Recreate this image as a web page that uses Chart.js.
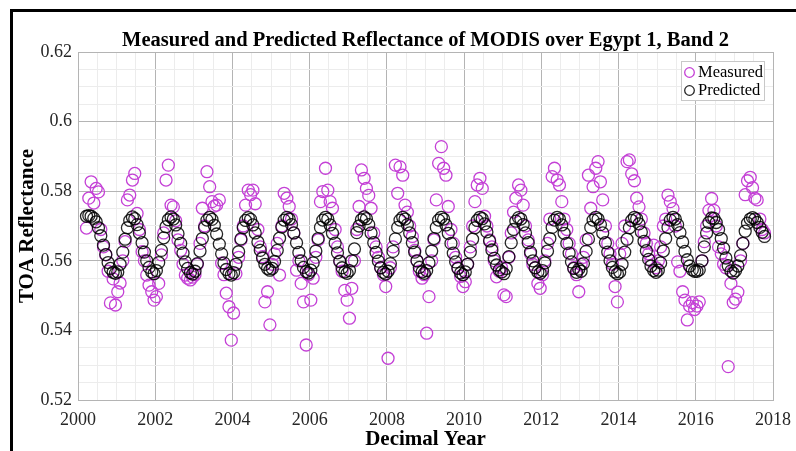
<!DOCTYPE html>
<html>
<head>
<meta charset="utf-8">
<script src="https://cdn.jsdelivr.net/npm/chart.js@4.4.1/dist/chart.umd.min.js"></script>
<style>
  html, body { margin: 0; padding: 0; background: #fff; }
</style>
</head>
<body>
<canvas id="myChart" width="796" height="451"></canvas>
<script>
  // tick labels
  const yearTicks = [2000, 2002, 2004, 2006, 2008, 2010, 2012, 2014, 2016, 2018];
  const reflTicks = [0.52, 0.54, 0.56, 0.58, 0.6, 0.62];

  // sample dates (decimal year), one row per year
  const decimalYear = [
    2000.22, 2000.28, 2000.34, 2000.41, 2000.47, 2000.53, 2000.59, 2000.66, 2000.72, 2000.78, 2000.84, 2000.91, 2000.97,
    2001.03, 2001.09, 2001.16, 2001.22, 2001.28, 2001.34, 2001.41, 2001.47, 2001.53, 2001.59, 2001.66, 2001.72, 2001.78, 2001.84, 2001.91, 2001.97,
    2002.03, 2002.09, 2002.16, 2002.22, 2002.28, 2002.34, 2002.41, 2002.47, 2002.53, 2002.59, 2002.66, 2002.72, 2002.78, 2002.84, 2002.91, 2002.97,
    2003.03, 2003.09, 2003.16, 2003.22, 2003.28, 2003.34, 2003.41, 2003.47, 2003.53, 2003.59, 2003.66, 2003.72, 2003.78, 2003.84, 2003.91, 2003.97,
    2004.03, 2004.09, 2004.16, 2004.22, 2004.28, 2004.34, 2004.41, 2004.47, 2004.53, 2004.59, 2004.66, 2004.72, 2004.78, 2004.84, 2004.91, 2004.97,
    2005.03, 2005.09, 2005.16, 2005.22, 2005.28, 2005.34, 2005.41, 2005.47, 2005.53, 2005.59, 2005.66, 2005.72, 2005.78, 2005.84, 2005.91, 2005.97,
    2006.03, 2006.09, 2006.16, 2006.22, 2006.28, 2006.34, 2006.41, 2006.47, 2006.53, 2006.59, 2006.66, 2006.72, 2006.78, 2006.84, 2006.91, 2006.97,
    2007.03, 2007.09, 2007.16, 2007.22, 2007.28, 2007.34, 2007.41, 2007.47, 2007.53, 2007.59, 2007.66, 2007.72, 2007.78, 2007.84, 2007.91, 2007.97,
    2008.03, 2008.09, 2008.16, 2008.22, 2008.28, 2008.34, 2008.41, 2008.47, 2008.53, 2008.59, 2008.66, 2008.72, 2008.78, 2008.84, 2008.91, 2008.97,
    2009.03, 2009.09, 2009.16, 2009.22, 2009.28, 2009.34, 2009.41, 2009.47, 2009.53, 2009.59, 2009.66, 2009.72, 2009.78, 2009.84, 2009.91, 2009.97,
    2010.03, 2010.09, 2010.16, 2010.22, 2010.28, 2010.34, 2010.41, 2010.47, 2010.53, 2010.59, 2010.66, 2010.72, 2010.78, 2010.84, 2010.91, 2010.97,
    2011.03, 2011.09, 2011.16, 2011.22, 2011.28, 2011.34, 2011.41, 2011.47, 2011.53, 2011.59, 2011.66, 2011.72, 2011.78, 2011.84, 2011.91, 2011.97,
    2012.03, 2012.09, 2012.16, 2012.22, 2012.28, 2012.34, 2012.41, 2012.47, 2012.53, 2012.59, 2012.66, 2012.72, 2012.78, 2012.84, 2012.91, 2012.97,
    2013.03, 2013.09, 2013.16, 2013.22, 2013.28, 2013.34, 2013.41, 2013.47, 2013.53, 2013.59, 2013.66, 2013.72, 2013.78, 2013.84, 2013.91, 2013.97,
    2014.03, 2014.09, 2014.16, 2014.22, 2014.28, 2014.34, 2014.41, 2014.47, 2014.53, 2014.59, 2014.66, 2014.72, 2014.78, 2014.84, 2014.91, 2014.97,
    2015.03, 2015.09, 2015.16, 2015.22, 2015.28, 2015.34, 2015.41, 2015.47, 2015.53, 2015.59, 2015.66, 2015.72, 2015.78, 2015.84, 2015.91, 2015.97,
    2016.03, 2016.09, 2016.16, 2016.22, 2016.28, 2016.34, 2016.41, 2016.47, 2016.53, 2016.59, 2016.66, 2016.72, 2016.78, 2016.84, 2016.91, 2016.97,
    2017.03, 2017.09, 2017.16, 2017.22, 2017.28, 2017.34, 2017.41, 2017.47, 2017.53, 2017.59, 2017.66, 2017.72, 2017.78
  ];

  const measured = [
    0.5694, 0.5780, 0.5827, 0.5766, 0.5808, 0.5798, 0.5690, 0.5640, 0.5617, 0.5570, 0.5479, 0.5548, 0.5473,
    0.5511, 0.5536, 0.5600, 0.5655, 0.5775, 0.5789, 0.5832, 0.5851, 0.5736, 0.5690, 0.5626, 0.5600, 0.5559, 0.5530, 0.5511, 0.5487,
    0.5497, 0.5535, 0.5617, 0.5680, 0.5832, 0.5875, 0.5760, 0.5755, 0.5715, 0.5660, 0.5630, 0.5590, 0.5559, 0.5550, 0.5545, 0.5553,
    0.5560, 0.5590, 0.5650, 0.5751, 0.5700, 0.5856, 0.5813, 0.5770, 0.5757, 0.5760, 0.5775, 0.5593, 0.5560, 0.5507, 0.5468, 0.5372,
    0.5450, 0.5563, 0.5610, 0.5660, 0.5700, 0.5760, 0.5803, 0.5790, 0.5803, 0.5764, 0.5690, 0.5640, 0.5612, 0.5482, 0.5511, 0.5416,
    0.5590, 0.5620, 0.5650, 0.5559, 0.5700, 0.5794, 0.5780, 0.5756, 0.5720, 0.5680, 0.5573, 0.5600, 0.5535, 0.5482, 0.5358, 0.5560,
    0.5487, 0.5550, 0.5610, 0.5660, 0.5770, 0.5799, 0.5866, 0.5803, 0.5770, 0.5751, 0.5690, 0.5640, 0.5600, 0.5570, 0.5515, 0.5487,
    0.5435, 0.5521, 0.5600, 0.5690, 0.5756, 0.5861, 0.5837, 0.5808, 0.5788, 0.5751, 0.5680, 0.5640, 0.5610, 0.5580, 0.5560, 0.5526,
    0.5320, 0.5580, 0.5640, 0.5875, 0.5794, 0.5870, 0.5846, 0.5760, 0.5740, 0.5700, 0.5670, 0.5630, 0.5600, 0.5570, 0.5550, 0.5560,
    0.5392, 0.5497, 0.5600, 0.5660, 0.5775, 0.5880, 0.5928, 0.5866, 0.5846, 0.5756, 0.5690, 0.5650, 0.5610, 0.5580, 0.5555, 0.5526,
    0.5540, 0.5590, 0.5640, 0.5700, 0.5770, 0.5818, 0.5837, 0.5808, 0.5728, 0.5700, 0.5660, 0.5640, 0.5600, 0.5554, 0.5570, 0.5580,
    0.5502, 0.5497, 0.5610, 0.5680, 0.5740, 0.5780, 0.5818, 0.5803, 0.5760, 0.5700, 0.5660, 0.5620, 0.5590, 0.5580, 0.5535, 0.5521,
    0.5560, 0.5600, 0.5650, 0.5720, 0.5842, 0.5866, 0.5832, 0.5818, 0.5770, 0.5720, 0.5690, 0.5650, 0.5620, 0.5580, 0.5560, 0.5511,
    0.5590, 0.5610, 0.5660, 0.5846, 0.5751, 0.5813, 0.5866, 0.5885, 0.5827, 0.5775, 0.5700, 0.5650, 0.5620, 0.5590, 0.5526, 0.5482,
    0.5620, 0.5650, 0.5700, 0.5885, 0.5890, 0.5850, 0.5830, 0.5780, 0.5755, 0.5720, 0.5680, 0.5650, 0.5620, 0.5600, 0.5645, 0.5580,
    0.5600, 0.5640, 0.5700, 0.5720, 0.5789, 0.5770, 0.5750, 0.5700, 0.5597, 0.5570, 0.5511, 0.5487, 0.5430, 0.5470, 0.5480, 0.5460,
    0.5470, 0.5482, 0.5600, 0.5655, 0.5700, 0.5745, 0.5779, 0.5745, 0.5700, 0.5640, 0.5620, 0.5590, 0.5580, 0.5296, 0.5535, 0.5480,
    0.5490, 0.5510, 0.5600, 0.5650, 0.5790, 0.5830, 0.5840, 0.5810, 0.5780, 0.5775, 0.5720, 0.5690, 0.5680
  ];

  const predicted = [
    0.5728, 0.5730, 0.5728, 0.5722, 0.5712, 0.5695, 0.5672, 0.5645, 0.5618, 0.5595, 0.5578, 0.5567, 0.5564,
    0.5568, 0.5590, 0.5625, 0.5662, 0.5695, 0.5716, 0.5726, 0.5721, 0.5704, 0.5680, 0.5652, 0.5625, 0.5600, 0.5581, 0.5568, 0.5563,
    0.5572, 0.5595, 0.5630, 0.5666, 0.5698, 0.5718, 0.5726, 0.5720, 0.5703, 0.5678, 0.5650, 0.5622, 0.5597, 0.5578, 0.5566, 0.5562,
    0.5570, 0.5592, 0.5628, 0.5664, 0.5696, 0.5717, 0.5725, 0.5719, 0.5702, 0.5677, 0.5648, 0.5620, 0.5594, 0.5575, 0.5563, 0.5559,
    0.5566, 0.5590, 0.5626, 0.5663, 0.5695, 0.5716, 0.5724, 0.5719, 0.5703, 0.5680, 0.5654, 0.5630, 0.5608, 0.5590, 0.5578, 0.5573,
    0.5578, 0.5598, 0.5630, 0.5665, 0.5697, 0.5717, 0.5725, 0.5720, 0.5704, 0.5680, 0.5652, 0.5624, 0.5600, 0.5581, 0.5569, 0.5565,
    0.5573, 0.5594, 0.5628, 0.5664, 0.5696, 0.5717, 0.5725, 0.5720, 0.5703, 0.5679, 0.5651, 0.5623, 0.5598, 0.5580, 0.5568, 0.5564,
    0.5572, 0.5600, 0.5634, 0.5681, 0.5700, 0.5718, 0.5726, 0.5721, 0.5704, 0.5680, 0.5652, 0.5624, 0.5599, 0.5580, 0.5567, 0.5562,
    0.5570, 0.5592, 0.5627, 0.5663, 0.5696, 0.5717, 0.5725, 0.5720, 0.5704, 0.5680, 0.5652, 0.5625, 0.5600, 0.5581, 0.5568, 0.5564,
    0.5572, 0.5594, 0.5628, 0.5664, 0.5696, 0.5717, 0.5725, 0.5720, 0.5703, 0.5679, 0.5650, 0.5622, 0.5597, 0.5578, 0.5565, 0.5560,
    0.5568, 0.5590, 0.5625, 0.5662, 0.5695, 0.5716, 0.5725, 0.5721, 0.5706, 0.5683, 0.5657, 0.5631, 0.5607, 0.5588, 0.5574, 0.5568,
    0.5563, 0.5578, 0.5612, 0.5652, 0.5690, 0.5714, 0.5724, 0.5720, 0.5704, 0.5680, 0.5652, 0.5625, 0.5600, 0.5580, 0.5568, 0.5564,
    0.5572, 0.5594, 0.5628, 0.5664, 0.5696, 0.5717, 0.5725, 0.5720, 0.5703, 0.5679, 0.5650, 0.5622, 0.5597, 0.5578, 0.5567, 0.5576,
    0.5570, 0.5592, 0.5627, 0.5663, 0.5696, 0.5717, 0.5725, 0.5720, 0.5704, 0.5680, 0.5652, 0.5625, 0.5600, 0.5581, 0.5568, 0.5563,
    0.5568, 0.5590, 0.5625, 0.5662, 0.5695, 0.5716, 0.5725, 0.5721, 0.5706, 0.5683, 0.5656, 0.5629, 0.5604, 0.5585, 0.5572, 0.5567,
    0.5573, 0.5594, 0.5628, 0.5664, 0.5696, 0.5717, 0.5725, 0.5720, 0.5704, 0.5681, 0.5654, 0.5627, 0.5603, 0.5585, 0.5574, 0.5570,
    0.5570, 0.5574, 0.5600, 0.5640, 0.5680, 0.5710, 0.5723, 0.5722, 0.5710, 0.5690, 0.5664, 0.5636, 0.5608, 0.5586, 0.5571, 0.5565,
    0.5572, 0.5585, 0.5615, 0.5650, 0.5685, 0.5708, 0.5720, 0.5724, 0.5720, 0.5710, 0.5696, 0.5682, 0.5670
  ];

  const serif = "'Liberation Serif', 'Times New Roman', serif";
  const magenta = '#c440d6';
  const black = 'rgba(0,0,0,0.85)';

  const isMajorYear = v => yearTicks.some(t => Math.abs(t - v) < 1e-6);
  const isMajorRefl = v => reflTicks.some(t => Math.abs(t - v) < 1e-6);

  // black frame around the figure (top and left edge)
  const framePlugin = {
    id: 'frame',
    beforeDraw(chart) {
      const c = chart.ctx;
      c.save();
      c.fillStyle = '#fff';
      c.fillRect(0, 0, chart.width, chart.height);
      c.fillStyle = '#000';
      c.fillRect(10, 9, chart.width - 10, 3);
      c.fillRect(10, 9, 3, chart.height - 9);
      c.restore();
    }
  };

  // boxed legend inside the plot, top right
  const boxLegend = {
    id: 'boxLegend',
    afterDraw(chart) {
      const c = chart.ctx;
      const x0 = 681.5, y0 = 61.5, w = 83, h = 39;
      c.save();
      c.fillStyle = '#fff';
      c.fillRect(x0, y0, w, h);
      c.strokeStyle = '#c8c8c8';
      c.lineWidth = 1;
      c.strokeRect(x0, y0, w, h);
      c.font = '16.5px ' + serif;
      c.textBaseline = 'middle';
      c.fillStyle = '#000';
      chart.data.datasets.forEach((ds, i) => {
        const cy = 72.5 + i * 18;
        c.beginPath();
        c.arc(689.5, cy, 4.8, 0, Math.PI * 2);
        c.strokeStyle = ds.pointBorderColor;
        c.lineWidth = 1.3;
        c.stroke();
        c.fillText(ds.label, 698, cy + 0.5);
      });
      c.restore();
    }
  };

  const ctx = document.getElementById('myChart');
  new Chart(ctx, {
    type: 'scatter',
    data: {
      datasets: [{
        label: 'Measured',
        data: decimalYear.map((x, i) => ({ x: x, y: measured[i] })),
        pointStyle: 'circle',
        pointRadius: 6,
        pointBorderWidth: 1.3,
        pointBorderColor: magenta,
        pointBackgroundColor: 'rgba(0,0,0,0)',
        order: 2
      }, {
        label: 'Predicted',
        data: decimalYear.map((x, i) => ({ x: x, y: predicted[i] })),
        pointStyle: 'circle',
        pointRadius: 6,
        pointBorderWidth: 1.3,
        pointBorderColor: black,
        pointBackgroundColor: 'rgba(0,0,0,0)',
        order: 1
      }]
    },
    options: {
      responsive: false,
      animation: false,
      layout: { padding: { left: 0, right: 23, top: 0, bottom: 0 } },
      plugins: {
        legend: { display: false },
        tooltip: { enabled: false },
        title: {
          display: true,
          fullSize: false,
          text: 'Measured and Predicted Reflectance of MODIS over Egypt 1, Band 2',
          color: '#000',
          font: { family: serif, size: 20.5, weight: 'bold', lineHeight: 1 },
          padding: { top: 30.5, bottom: 1 }
        }
      },
      scales: {
        x: {
          type: 'linear',
          min: 2000,
          max: 2018,
          afterFit: s => { s.height = 51; s.paddingLeft = 0; s.paddingRight = 0; },
          ticks: {
            stepSize: 0.5,
            autoSkip: false,
            maxRotation: 0,
            minRotation: 0,
            padding: 9,
            color: '#262626',
            font: { family: serif, size: 18 },
            callback: v => isMajorYear(v) ? String(Math.round(v)) : ''
          },
          grid: {
            drawTicks: false,
            color: c => isMajorYear(c.tick.value) ? '#b4b4b4' : '#ececec'
          },
          border: { color: '#b4b4b4' },
          title: {
            display: true,
            text: 'Decimal Year',
            color: '#000',
            font: { family: serif, size: 21, weight: 'bold', lineHeight: 1 },
            padding: { top: 0, bottom: 0.5 }
          }
        },
        y: {
          min: 0.52,
          max: 0.62,
          afterFit: s => { s.width = 78; },
          ticks: {
            stepSize: 0.005,
            autoSkip: false,
            padding: 6,
            color: '#262626',
            font: { family: serif, size: 18 },
            callback: v => isMajorRefl(v) ? String(parseFloat(v.toFixed(2))) : ''
          },
          grid: {
            drawTicks: false,
            color: c => isMajorRefl(c.tick.value) ? '#b4b4b4' : '#ececec'
          },
          border: { color: '#b4b4b4' },
          title: {
            display: true,
            text: 'TOA Reflectance',
            color: '#000',
            font: { family: serif, size: 21, weight: 'bold', lineHeight: 1 },
            padding: { top: 17.5, bottom: 0 }
          }
        }
      }
    },
    plugins: [framePlugin, boxLegend]
  });
</script>
</body>
</html>
